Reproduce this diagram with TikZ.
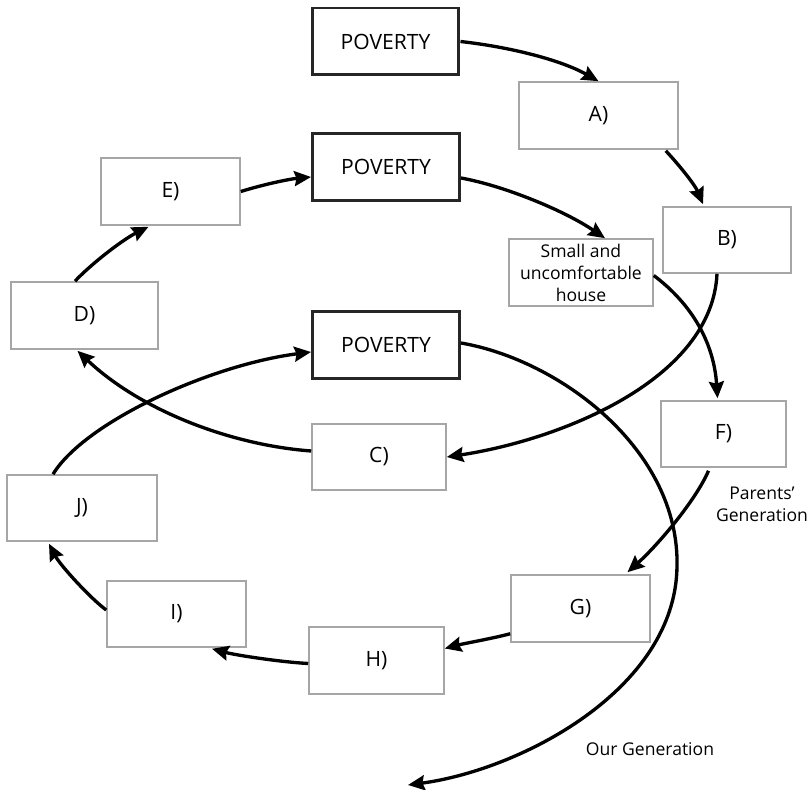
\documentclass[tikz,border=0pt]{standalone}
\usepackage{fontspec}
\setmainfont{Open Sans}
\usetikzlibrary{arrows.meta,calc}
\begin{document}
\begin{tikzpicture}[x=0.02cm,y=-0.02cm,
  pov/.style={draw=black!85,line width=1.7pt,minimum width=2.94cm,minimum height=1.34cm,inner sep=0pt,font=\fontsize{12}{14}\selectfont},
  box/.style={draw=black!35,line width=0.9pt,inner sep=0pt,font=\fontsize{12}{14}\selectfont},
  lbl/.style={inner sep=0pt,align=center,font=\fontsize{10}{12.5}\selectfont},
  arr/.style={line width=1.9pt,-{Stealth[length=9.5pt,width=8.5pt,inset=1.2pt]}}]
\useasboundingbox (0,0) rectangle (809,790);
% POVERTY boxes
\node[pov] (P1) at (385.5,41.5) {POVERTY};
\node[pov] (P2) at (386,167) {POVERTY};
\node[pov] (P3) at (386,345) {POVERTY};
% letter boxes
\node[box,minimum width=3.18cm,minimum height=1.34cm] (A) at (598.5,115.5) {A)};
\node[box,minimum width=2.56cm,minimum height=1.32cm] (B) at (727,240) {B)};
\node[box,minimum width=2.88cm,minimum height=1.34cm,align=center,font=\fontsize{10}{12.5}\selectfont] (S) at (581,272.5) {Small and\\uncomfortable\\house};
\node[box,minimum width=2.78cm,minimum height=1.34cm] (E) at (170.5,191.5) {E)};
\node[box,minimum width=2.94cm,minimum height=1.34cm] (D) at (84.5,315.5) {D)};
\node[box,minimum width=2.68cm,minimum height=1.32cm] (C) at (379,457) {C)};
\node[box,minimum width=2.50cm,minimum height=1.32cm] (F) at (723.5,434) {F)};
\node[box,minimum width=3.00cm,minimum height=1.32cm] (J) at (82,508) {J)};
\node[box,minimum width=2.78cm,minimum height=1.34cm] (G) at (580.5,608.5) {G)};
\node[box,minimum width=2.78cm,minimum height=1.32cm] (I) at (176.5,614) {I)};
\node[box,minimum width=2.70cm,minimum height=1.34cm] (H) at (376.5,660.5) {H)};
% labels
\node[lbl] (par) at (762,504) {Parents’\\Generation};
\node[lbl] (our) at (650,749) {Our Generation};
\coordinate (oe) at (408,785);
% connectors
\draw[arr] (P1.east) .. controls (510,47) and (561,60) .. (A.north);
\draw[arr] ($(A.south east)+(-13,1)$) .. controls (680,166) and (695,185) .. ($(B.north)+(-24,-2)$);
\draw[arr] ($(P2.east)+(0,11)$) .. controls (505,186) and (565,211) .. ($(S.north)+(24,0)$);
\draw[arr] ($(B.south)+(-10,0)$) .. controls (712,380) and (560,440) .. (C.east);
\draw[arr] ($(S.east)+(0,3)$) .. controls (693,305) and (714,344) .. ($(F.north)+(-6,-2)$);
\draw[arr] ($(F.south)+(-15,3)$) .. controls (696,500) and (658,545) .. ($(G.north)+(47,-2)$);
\draw[arr] ($(G.south west)+(0,-9)$) .. controls (490,639) and (466,643) .. ($(H.east)+(0,-12)$);
\draw[arr] ($(H.west)+(0,3)$) .. controls (280,662) and (235,655) .. ($(I.south)+(35.5,1)$);
\draw[arr] ($(I.west)+(0,-4)$) .. controls (90,598) and (60,565) .. ($(J.south)+(-33,2)$);
\draw[arr] ($(J.north)+(-29,0)$) .. controls (85,422) and (210,365) .. ($(P3.west)+(0,7)$);
\draw[arr] ($(C.west)+(0,-6)$) .. controls (230,445) and (140,410) .. ($(D.south)+(-7,1)$);
\draw[arr] ($(D.north)+(-9.5,0)$) .. controls (90,265) and (122,240) .. ($(E.south)+(-22,1)$);
\draw[arr] (E.east) .. controls (265,184) and (290,179) .. ($(P2.west)+(0,10)$);
\draw[arr] ($(P3.east)+(0,-2)$) .. controls (560,360) and (680,450) .. (677,567) .. controls (675,690) and (520,770) .. (oe);
\end{tikzpicture}
\end{document}
